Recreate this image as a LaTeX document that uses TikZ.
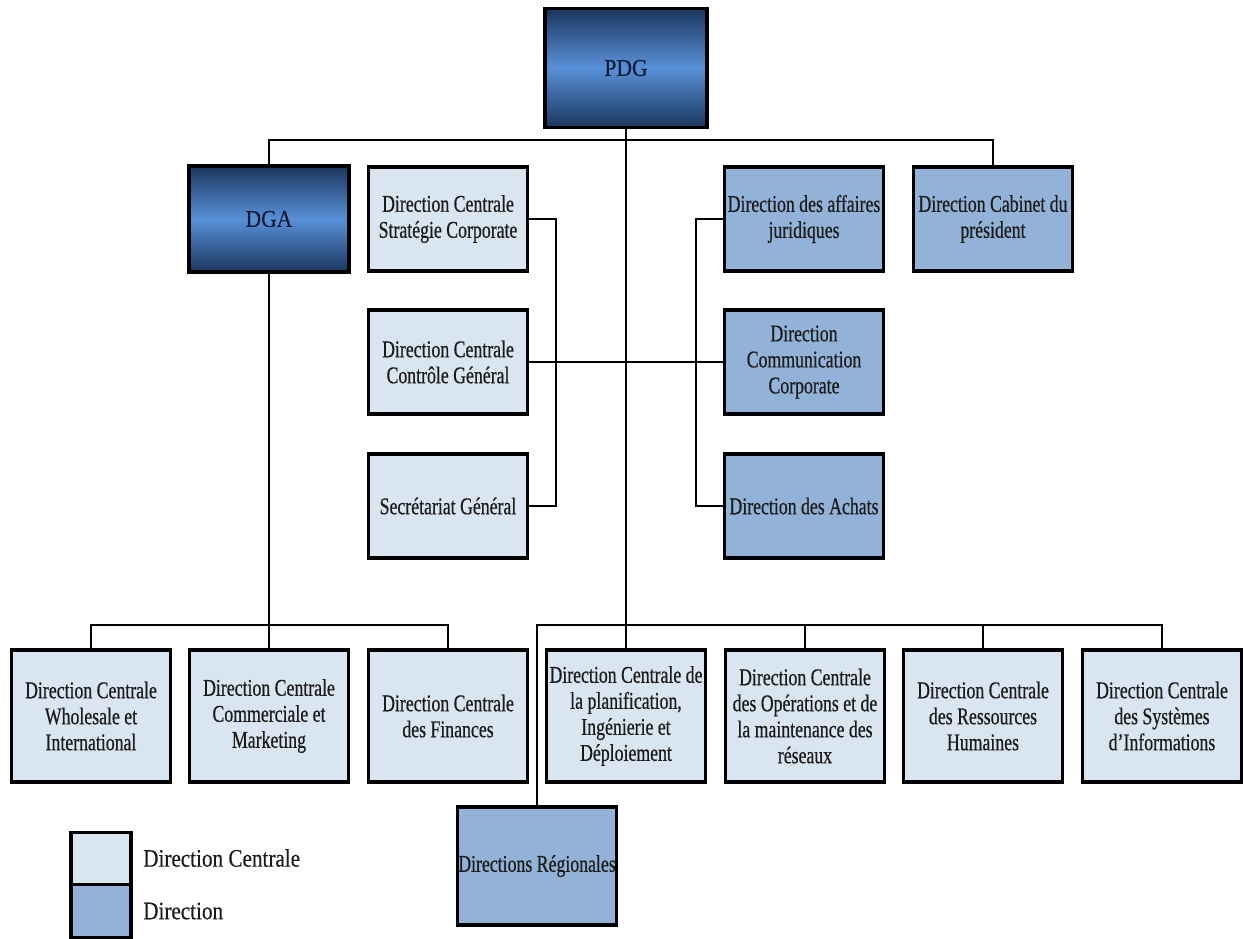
\documentclass[tikz,border=0pt]{standalone}
\usepackage{fontspec}
\setmainfont{Liberation Serif}[FakeStretch=0.74, FakeBold=0.5]
\newfontfamily\topfont{Liberation Serif}[FakeStretch=0.9, FakeBold=0.5]
\newfontfamily\legfont{Liberation Serif}[FakeStretch=0.84, FakeBold=0.4]
\usepackage{xcolor}
\usepackage{tikz}
\usetikzlibrary{calc}
\definecolor{ink}{HTML}{1B1B1B}
\definecolor{navyink}{HTML}{0E1C36}
\definecolor{paleblue}{HTML}{DAE5F2}
\definecolor{midblue}{HTML}{93B2D7}
\definecolor{darkblue}{HTML}{1B365E}
\definecolor{brightblue}{HTML}{5890D8}
\tikzset{
  box/.style={draw=black, line width=2.7pt, inner sep=0pt, align=center, text=ink,
    font=\fontsize{20.5}{22.2}\selectfont, minimum width=4.77cm},
  cbox/.style={box, fill=paleblue},
  dbox/.style={box, fill=midblue},
  topbox/.style={box, top color=darkblue, bottom color=darkblue, middle color=brightblue,
    text=navyink, font=\topfont\fontsize{20.5}{22}\selectfont},
  up/.style={minimum height=3.12cm},
  low/.style={minimum height=3.96cm},
  link/.style={draw=black, line width=2.4pt},
  legtxt/.style={text=ink, font=\legfont\fontsize{21.5}{24}\selectfont, anchor=west, inner sep=0pt},
}
\begin{document}
\begin{tikzpicture}[x=0.03cm, y=-0.03cm]
  \useasboundingbox (0,0) rectangle (1243,938);
  % top
  \node[topbox, minimum width=4.86cm, minimum height=3.57cm] (pdg) at (626,68) {PDG};
  \node[topbox, minimum width=4.8cm, minimum height=3.18cm] (dga) at (269,219) {DGA};
  \node[cbox, up] (strat) at (448,219) {Direction Centrale\\Stratégie Corporate};
  \node[cbox, up] (ctrl) at (448,362) {Direction Centrale\\Contrôle Général};
  \node[cbox, up] (secr) at (448,506) {Secrétariat Général};
  \node[dbox, up] (jur) at (804,219) {Direction des affaires\\juridiques};
  \node[dbox, up] (cab) at (993,219) {Direction Cabinet du\\président};
  \node[dbox, up] (comm) at (804,362) {Direction\\Communication\\Corporate};
  \node[dbox, up] (ach) at (804,506) {Direction des Achats};
  % bottom row
  \node[cbox, low] (whole) at (91,716) {Direction Centrale\\Wholesale et\\International};
  \node[cbox, low] (comml) at (269,716) {Direction Centrale\\Commerciale et\\Marketing};
  \node[cbox, low] (fin) at (448,716) {Direction Centrale\\des Finances};
  \node[cbox, low] (plan) at (626,716) {Direction Centrale de\\la planification,\\Ingénierie et\\Déploiement};
  \node[cbox, low] (ops) at (805,716) {Direction Centrale\\des Opérations et de\\la maintenance des\\réseaux};
  \node[cbox, low] (rh) at (983,716) {Direction Centrale\\des Ressources\\Humaines};
  \node[cbox, low] (si) at (1162,716) {Direction Centrale\\des Systèmes\\d’Informations};
  \node[dbox, minimum height=3.54cm] (reg) at (537,866) {Directions Régionales};
  % legend
  \node[cbox, minimum width=1.8cm, minimum height=1.58cm] (legc) at (101,859) {};
  \node[dbox, minimum width=1.8cm, minimum height=1.58cm] (legd) at (101,911) {};
  \node[legtxt] (legctxt) at (143,858) {Direction Centrale};
  \node[legtxt] (legdtxt) at (143,911) {Direction};
  % connectors
  \coordinate (topbar) at (626,140);
  \coordinate (botbar) at (626,625);
  \coordinate (lbr) at (556,362);
  \coordinate (rbr) at (696,362);
  \draw[link] (pdg.south) -- (plan.north);
  \draw[link] (dga.north) -- (dga.north |- topbar) -- (cab.north |- topbar) -- (cab.north);
  \draw[link] (dga.south) -- (dga.south |- botbar);
  \draw[link] (whole.north) -- (whole.north |- botbar) -- (fin.north |- botbar) -- (fin.north);
  \draw[link] (comml.north) -- (comml.north |- botbar);
  \draw[link] (reg.north) -- (reg.north |- botbar) -- (si.north |- botbar) -- (si.north);
  \foreach \n in {ops,rh} {\draw[link] (\n.north) -- (\n.north |- botbar);}
  \draw[link] (strat.east) -- (strat.east -| lbr) -- (secr.east -| lbr) -- (secr.east);
  \draw[link] (jur.west) -- (jur.west -| rbr) -- (ach.west -| rbr) -- (ach.west);
  \draw[link] (ctrl.east) -- (comm.west);
\end{tikzpicture}
\end{document}
